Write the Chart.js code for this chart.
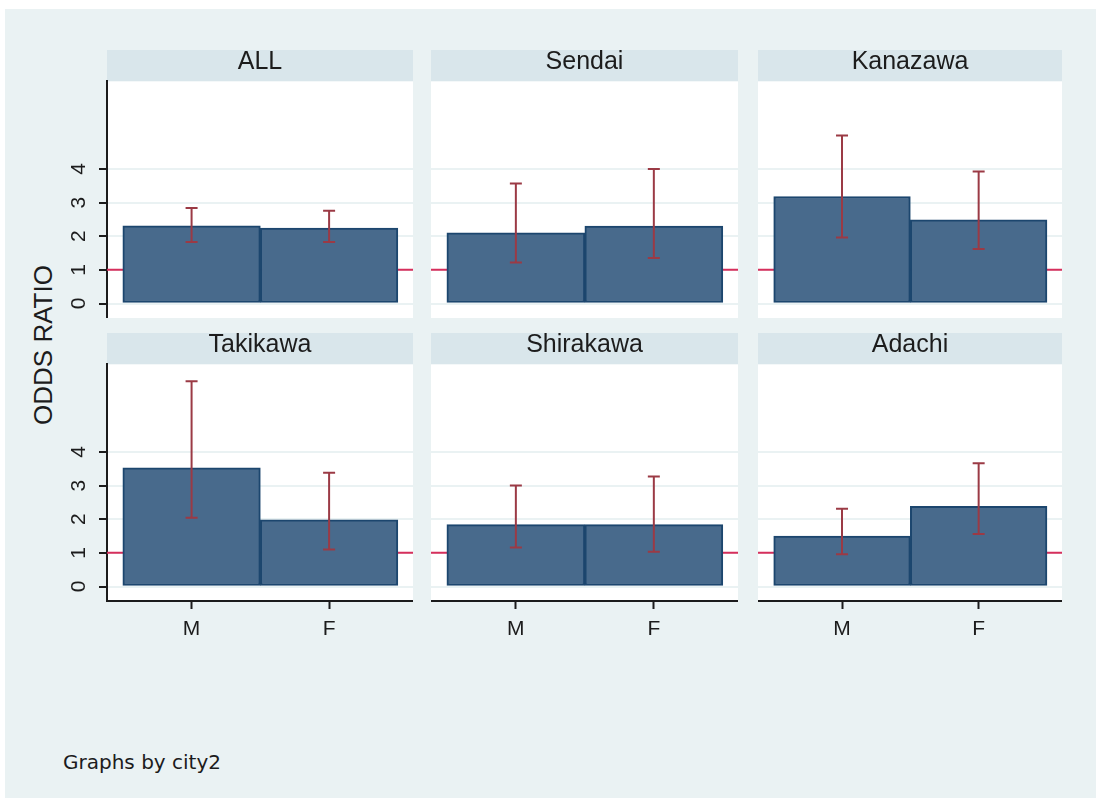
<!DOCTYPE html>
<html>
<head>
<meta charset="utf-8">
<script src="https://cdn.jsdelivr.net/npm/chart.js@4.4.1/dist/chart.umd.min.js"></script>
<style>
  html, body { margin: 0; padding: 0; background: #ffffff; }
  #page { position: relative; width: 1096px; height: 801px; overflow: hidden; }
  #region { position: absolute; left: 5px; top: 9px; width: 1091px; height: 789px; background: #eaf2f3; }
  canvas { position: absolute; }
  #ytitle {
    position: absolute; left: 43px; top: 345px; white-space: nowrap;
    transform: translate(-50%, -50%) rotate(-90deg);
    font: 26px "Liberation Sans", Arial, sans-serif; color: #1c1c1c;
  }
  #note {
    position: absolute; left: 63px; top: 750px; white-space: nowrap;
    font: 20px/24px "DejaVu Sans", sans-serif; color: #1c1c1c;
  }
</style>
</head>
<body>
<div id="page">
  <div id="region"></div>
  <div id="ytitle">ODDS RATIO</div>
  <div id="note">Graphs by city2</div>
</div>
<script>
// values
const cities = ["ALL", "Sendai", "Kanazawa", "Takikawa", "Shirakawa", "Adachi"];
const sexLabels = ["M", "F"];
const xTicks = [1, 2];
const yTicks = [0, 1, 2, 3, 4];
const refValue = 1;

const orM = [2.31, 2.10, 3.18, 3.53, 1.84, 1.50];
const orF = [2.24, 2.30, 2.49, 1.98, 1.84, 2.38];
const loM = [1.83, 1.22, 1.96, 2.04, 1.16, 0.96];
const hiM = [2.84, 3.57, 4.99, 6.10, 3.00, 2.31];
const loF = [1.83, 1.35, 1.62, 1.10, 1.03, 1.56];
const hiF = [2.76, 4.00, 3.92, 3.38, 3.27, 3.66];

const xMin = 0.385, xMax = 2.61;
const yMin = -0.43, yMax = 6.6;

// where each panel sits on the page
const panels = [
    { left: 47,  top: 50,  width: 366, height: 268, yAxis: true,  xAxis: false },
    { left: 431, top: 50,  width: 307, height: 268, yAxis: false, xAxis: false },
    { left: 758, top: 50,  width: 304, height: 268, yAxis: false, xAxis: false },
    { left: 47,  top: 333, width: 366, height: 313, yAxis: true,  xAxis: true },
    { left: 431, top: 333, width: 307, height: 313, yAxis: false, xAxis: true },
    { left: 758, top: 333, width: 304, height: 313, yAxis: false, xAxis: true },
];

const BG = "#eaf2f3";
const HEADER = "#d9e6eb";
const BAR_FILL = "#486a8c";
const BAR_LINE = "#1c466e";
const CI_COLOR = "#9b3a45";
const REF_COLOR = "#d62f5c";
const INK = "#1c1c1c";

const panelBackground = {
    id: "panelBackground",
    beforeDraw(chart) {
        const { ctx, chartArea } = chart;
        ctx.save();
        ctx.fillStyle = HEADER;
        ctx.fillRect(chartArea.left, 0, chartArea.right - chartArea.left, chartArea.top);
        ctx.fillStyle = "#ffffff";
        ctx.fillRect(chartArea.left, chartArea.top, chartArea.right - chartArea.left, chartArea.bottom - chartArea.top);
        ctx.restore();
    },
};

const page = document.getElementById("page");

cities.forEach((city, i) => {
    const p = panels[i];
    const canvas = document.createElement("canvas");
    canvas.width = p.width;
    canvas.height = p.height;
    canvas.style.left = p.left + "px";
    canvas.style.top = p.top + "px";
    page.appendChild(canvas);

    const ciData = [
        { x: xTicks[0], y: loM[i] }, { x: xTicks[0], y: hiM[i] }, { x: xTicks[0], y: null },
        { x: xTicks[1], y: loF[i] }, { x: xTicks[1], y: hiF[i] },
    ];

    new Chart(canvas, {
        type: "bar",
        data: {
            datasets: [
                {
                    type: "line",
                    data: [{ x: xMin, y: refValue }, { x: xMax, y: refValue }],
                    borderColor: REF_COLOR,
                    borderWidth: 2,
                    pointRadius: 0,
                    order: 3,
                },
                {
                    data: [{ x: xTicks[0], y: orM[i] }, { x: xTicks[1], y: orF[i] }],
                    backgroundColor: BAR_FILL,
                    borderColor: BAR_LINE,
                    borderWidth: 2,
                    borderSkipped: false,
                    barPercentage: 1,
                    categoryPercentage: 1,
                    order: 2,
                },
                {
                    type: "line",
                    data: ciData,
                    borderColor: CI_COLOR,
                    borderWidth: 2,
                    spanGaps: false,
                    pointStyle: "line",
                    pointRadius: 6,
                    pointBorderWidth: 2,
                    pointBorderColor: CI_COLOR,
                    order: 1,
                },
            ],
        },
        options: {
            responsive: false,
            animation: false,
            events: [],
            layout: { padding: 0, autoPadding: false },
            plugins: {
                legend: { display: false },
                tooltip: { enabled: false },
                title: {
                    display: true,
                    text: city,
                    fullSize: false,
                    color: INK,
                    font: { family: "'Liberation Sans', Arial, sans-serif", size: 25, weight: "normal", lineHeight: 1 },
                    padding: { top: 0, bottom: 6.4 },
                },
            },
            scales: {
                x: {
                    type: "linear",
                    min: xMin,
                    max: xMax,
                    offset: false,
                    display: p.xAxis,
                    afterBuildTicks: (s) => { s.ticks = xTicks.map((v) => ({ value: v })); },
                    afterFit: (s) => {
                        s.height = p.xAxis ? 45 : 0;
                        s.paddingLeft = 0;
                        s.paddingRight = 0;
                    },
                    grid: { offset: false, drawOnChartArea: false, drawTicks: true, tickLength: 8, tickColor: INK, tickWidth: 2 },
                    border: { display: true, color: INK, width: 2 },
                    ticks: {
                        color: INK,
                        padding: 8,
                        font: { family: "'Liberation Sans', Arial, sans-serif", size: 21 },
                        callback: (v) => sexLabels[xTicks.indexOf(v)],
                    },
                },
                y: {
                    type: "linear",
                    min: yMin,
                    max: yMax,
                    afterBuildTicks: (s) => { s.ticks = yTicks.map((v) => ({ value: v })); },
                    afterFit: (s) => {
                        s.width = p.yAxis ? 60 : 0;
                        s.paddingTop = 0;
                        s.paddingBottom = 0;
                    },
                    grid: {
                        color: BG,
                        lineWidth: 2,
                        drawTicks: p.yAxis,
                        tickLength: 8,
                        tickColor: INK,
                        tickWidth: 2,
                    },
                    border: { display: p.yAxis, color: INK, width: 2 },
                    ticks: {
                        display: p.yAxis,
                        color: INK,
                        padding: 14,
                        minRotation: 90,
                        maxRotation: 90,
                        crossAlign: "center",
                        font: { family: "'Liberation Sans', Arial, sans-serif", size: 21 },
                    },
                },
            },
        },
        plugins: [panelBackground],
    });
});
</script>
</body>
</html>
